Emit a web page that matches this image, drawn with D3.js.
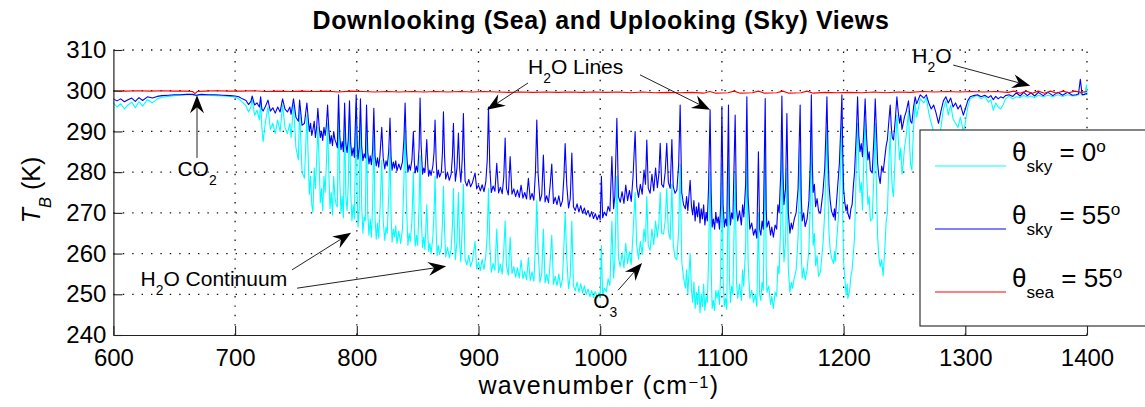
<!DOCTYPE html>
<html>
<head>
<meta charset="utf-8">
<script src="https://cdn.jsdelivr.net/npm/d3@7"></script>
<style>
  html, body { margin: 0; padding: 0; background: #fff; }
  svg { display: block; font-family: "Liberation Sans", Arial, Helvetica, sans-serif; }
</style>
</head>
<body>
<svg id="chart" width="1145" height="407"></svg>
<script>
// ---- spectral samples: wavenumber (cm^-1) and brightness temperature (K) ----
// the three arrays below run in step, ten samples per line
const wavenumber = [
  // window edge / CO2 band
  600,603,606,609,612,615,618,621,624,628,
  632,636,640,645,650,655,660,665,668,672,
  678,684,690,696,700,703,706,709,711,713,
  714,716,718,720,721,722,723,725,727,729,
  731,733,735,737,739,741,743,745,746,748,
  750,752,753,755,757,759,
  // 760-890
  761,762,763,764,765,766,767,768,769,770,
  771,772,773,774,775,776,777,778,779,780,
  781,782,783,784,785,786,787,788,789,790,
  791,792,793,794,795,796,797,798,799.5,800.3,
  801,802,803,804,805,806,807,808,809,810,
  811,812,813,814,815,816,817,818,819,820.5,
  821.7,823,824,825,826.2,827.3,828.2,829,830,831,
  832,833,834.5,836,837.5,838.7,839.7,840.7,842,843,
  844,845.3,846.5,847.3,848,849,850,851.2,852,852.8,
  854,855,856,857.5,858.3,859,860,861,862.5,863.5,
  864.3,865.2,866,867,868,869.5,870.4,871.2,872.1,873,
  874.5,876,877.5,878.6,879.4,880.2,881,882.3,883.5,884.5,
  885.5,886.6,887.6,888.4,
  // 890-1070
  889,890.5,892,893.5,895,897.2,898.5,900,901.5,903,
  904.5,906,907.2,908.2,909.3,910.5,912,913.5,915,916.5,
  918,919.5,920.8,921.9,923,924.5,926,927.5,929,930.5,
  932,933.5,935,936.5,938,939.5,941,942.5,944,945.5,
  946.8,947.9,949,950.5,952,953.3,954.7,956,957.5,958.8,
  960.2,961.6,963,964.5,966,967.5,969,970.2,971.2,972.5,
  974,975.4,976.7,978,979.5,981,982.5,984,985.5,987,
  988.5,990,991.5,993,994.5,996,997.5,999,1000,1001,
  1002,1003.5,1005,1006.5,1008,1009.6,1011,1012,1013.7,1015,
  1016.5,1018,1019.5,1021,1022.5,1024,1025.5,1027,1028.7,1030,
  1031.5,1033,1034.5,1036,1037.2,1038.3,1039.5,1041,1042.5,1044,
  1045.5,1047,1048.2,1049.3,1050.5,1052,1053.4,1054.7,1056,1057.5,
  1058.9,1060,1061.5,1063,1064.5,1065.7,1067,1068.5,
  // 1070-1261
  1070,1071,1072,1073.9,1075,1076,1077,1078,1079,1080,
  1081,1082,1083,1084,1085,1086,1087,1088,1089,1090.3,
  1091.2,1092,1093,1094,1095,1096,1097,1098,1099,1100,
  1101,1102,1103,1104,1105.4,1106.2,1107,1108,1109,1110.9,
  1112,1113,1114.5,1116,1117,1118,1119.5,1120.5,1121.5,1123,
  1124.5,1126,1127.4,1128.7,1130,1131,1132,1133,1134,1135.6,
  1136.4,1137,1138.5,1140,1141,1142.3,1143.7,1145,1146,1147,
  1148.4,1149.3,1150.2,1151,1152.3,1153.4,1154.6,1155.9,1157,1158,
  1159.5,1161,1162.6,1164.3,1165.2,1166,1167.2,1168.4,1170,1171.5,
  1172.6,1173.5,1174.3,1175,1176,1177,1178.2,1179.4,1181,1182,
  1183,1184.5,1185.5,1186.3,1187.2,1188,1189,1190,1191.7,1192.5,
  1193.1,1194,1195,1196.5,1197.7,1198.6,1199.3,1200,1201,1202,
  1203,1203.5,1205,1206,1207,1208,1209,1210.5,1211.5,1212.5,
  1213.5,1214.5,1215.5,1216.7,1217.7,1218.8,1220,1221,1222,1223.5,
  1225,1226,1227,1228,1229,1230.1,1231.3,1232.5,1234,1235,
  1236,1237.3,1238.3,1239.2,1240,1241,1242.5,1243.8,1244.8,1246,
  1247,1248,1249,1250,1251.5,1253.3,1254.2,1255,1256.1,1257.5,
  1258.8,1260,1261,
  // water band edge
  1263,1266,1268,1270,1272,1274,1276,1278,1280,1282,
  1284,1286,1288,1290,1292,1294,1296,1298.4,1300,1302,
  1304,1307,1310,1313,1316,1319,1321,1323,1325,1327,
  1329,1331,1333,1336,1339,1342,1345,1348,1351,1354,
  1357,1360,1364,1368,1372,1376,1380,1384,1388,1391,
  1393,1394.5,1396,1398,1399.6,1400
];

// uplooking sky radiance, 55 degree view
const tbSky55 = [
  298.0,297.5,298.0,297.3,297.8,298.2,297.4,298.3,297.6,298.5,
  298.2,298.6,298.8,298.9,299.0,299.0,299.1,299.1,298.9,299.1,
  299.0,299.0,298.9,298.8,298.7,298.5,298.0,297.6,296.6,297.4,
  298.7,296.5,297.0,296.0,298.5,295.5,295.0,296.2,297.7,295.0,
  295.8,294.5,296.0,294.8,298.0,295.5,294.8,296.0,294.2,298.0,
  293.5,292.5,297.7,291.5,292.0,297.0,
  290.0,292.0,289.0,290.5,292.5,288.5,291.0,295.7,291.5,288.5,
  290.0,287.8,291.0,289.0,291.5,296.5,290.5,287.0,289.0,286.5,
  290.0,288.0,287.2,286.0,299.0,289.0,285.5,287.5,285.0,297.0,
  287.0,284.8,288.0,297.5,287.0,284.0,286.0,283.6,299.0,288.0,
  283.2,286.0,298.0,286.5,282.8,284.5,283.5,296.5,285.0,282.0,
  284.0,281.8,285.5,295.7,284.0,281.5,283.5,281.2,284.0,291.0,
  283.5,280.8,282.8,281.5,285.0,293.3,283.5,280.5,282.5,281.0,
  282.8,280.3,282.0,280.6,282.5,288.0,297.0,286.0,280.0,281.8,
  280.5,283.0,290.0,282.5,279.8,281.5,280.0,286.0,298.2,287.0,
  279.5,281.0,280.0,288.0,282.0,279.0,280.5,279.2,281.5,285.0,
  292.8,283.0,278.5,280.5,278.8,280.0,285.0,294.8,284.0,278.3,
  280.0,278.0,279.5,284.0,292.0,283.0,277.8,281.0,289.6,281.0,
  277.5,283.0,294.4,283.5,
  277.8,276.6,278.2,276.4,277.4,279.8,275.9,276.8,275.4,276.9,
  275.2,277.6,283.0,296.0,281.0,275.0,276.6,275.3,282.2,274.9,
  276.3,274.7,279.0,288.4,276.0,274.4,283.8,274.6,275.9,274.0,
  275.6,273.8,276.8,273.6,275.0,273.4,278.5,273.3,274.8,273.1,
  280.0,292.8,279.5,272.9,274.5,284.2,272.7,274.2,272.5,276.5,
  282.0,272.3,273.8,272.0,274.2,271.6,273.0,279.0,287.0,277.0,
  271.2,273.5,284.7,271.5,270.6,272.2,270.2,271.8,269.9,271.2,
  269.5,270.6,269.0,270.3,268.6,269.8,268.3,269.5,268.3,279.0,
  268.8,270.2,269.3,271.6,270.4,283.8,271.0,274.0,293.2,274.0,
  272.6,275.2,272.3,276.8,273.0,275.5,272.8,279.0,290.0,276.5,
  273.8,277.0,274.6,280.5,277.0,287.9,276.0,274.8,279.5,275.4,
  281.0,276.2,279.5,287.1,277.0,276.3,280.0,287.1,277.5,276.0,
  288.0,276.5,274.8,275.6,282.0,296.5,275.0,272.0,
  271.0,274.0,270.5,278.0,271.5,269.5,273.0,268.0,271.5,269.0,
  272.5,267.5,271.0,268.5,272.0,267.0,270.0,268.0,276.0,295.3,
  275.0,266.5,268.5,266.0,270.0,267.5,269.0,266.0,272.0,296.1,
  272.0,266.5,268.5,266.8,296.5,272.0,267.0,270.0,268.5,294.0,
  271.0,268.0,270.5,267.0,272.0,269.0,277.0,298.5,274.0,266.0,
  267.5,264.5,266.0,263.8,285.0,266.0,264.5,268.0,266.0,298.1,
  271.0,266.5,268.0,264.5,266.5,264.0,267.0,266.0,272.0,270.0,
  280.0,298.7,280.0,272.0,276.0,294.4,270.0,265.0,267.5,266.0,
  268.5,270.0,276.0,296.5,274.0,268.0,270.0,266.6,268.5,273.0,
  282.0,299.0,282.0,275.0,277.0,271.5,273.5,270.5,269.9,272.5,
  275.0,281.0,290.0,298.5,285.0,277.0,273.0,270.5,269.0,271.0,
  268.2,272.0,276.0,282.0,291.0,299.0,285.0,276.0,272.5,270.5,
  272.0,269.9,268.5,271.0,272.0,276.5,280.0,290.0,298.5,289.0,
  285.0,287.0,283.8,291.0,298.0,289.0,283.0,285.0,280.5,279.8,
  289.0,298.0,290.0,282.0,279.0,277.2,281.5,280.0,284.0,286.5,
  288.0,293.0,296.5,291.0,288.5,287.9,293.0,298.5,295.0,292.0,
  294.0,290.5,292.0,293.5,295.0,297.5,294.5,292.5,292.0,296.0,
  298.5,296.8,297.5,
  299.0,298.2,299.0,297.0,295.5,296.5,294.5,292.0,295.0,297.5,
  298.5,297.0,298.2,296.0,297.0,295.5,296.5,294.0,295.5,297.5,
  298.5,298.8,299.0,298.5,298.9,298.3,298.8,297.8,298.6,298.0,
  298.5,298.2,298.8,299.0,298.6,299.5,298.7,299.6,298.8,299.5,
  298.7,299.6,298.8,299.6,298.8,299.6,298.9,299.6,298.9,299.0,
  299.2,302.8,299.0,299.1,299.3,299.1
];

// uplooking sky radiance, zenith view
const tbSky0 = [
  297.0,296.0,296.8,295.5,296.5,297.2,295.8,297.3,296.2,297.8,
  297.0,298.0,298.4,298.6,298.8,298.9,299.0,299.0,298.8,299.0,
  298.9,298.8,298.7,298.6,298.4,298.0,297.2,296.3,294.8,296.0,
  298.0,294.0,295.2,292.8,297.6,291.0,287.5,292.5,296.0,290.5,
  292.0,289.5,292.8,290.0,296.5,291.0,289.5,292.0,288.5,296.5,
  286.0,283.0,295.5,280.0,278.5,294.0,
  274.5,279.0,272.0,270.2,281.0,276.0,283.0,291.0,283.0,272.5,
  276.0,270.5,279.0,275.0,282.0,292.0,280.0,271.0,275.0,269.5,
  279.0,274.0,272.0,271.5,296.0,278.0,270.0,274.0,268.8,293.5,
  274.0,270.5,277.0,294.5,275.0,268.0,272.0,268.5,297.0,275.0,
  266.5,271.0,295.0,272.0,265.0,269.0,268.0,292.0,270.0,264.5,
  268.5,264.0,272.0,290.5,268.5,263.5,267.5,263.8,270.0,283.0,
  268.0,263.2,266.5,265.0,274.0,286.0,269.0,262.8,266.0,264.0,
  266.8,262.5,265.5,262.5,266.0,278.0,292.0,273.0,262.0,265.0,
  263.0,268.0,280.0,266.0,261.8,264.5,262.0,272.0,284.0,270.0,
  261.5,264.0,261.0,272.0,265.0,260.5,262.5,260.0,264.0,270.0,
  279.0,266.0,259.5,262.0,259.8,261.5,268.0,276.5,266.0,259.2,
  261.5,259.0,261.0,267.0,276.0,265.0,258.5,263.0,275.0,262.5,
  258.0,266.0,277.0,265.0,
  258.5,257.2,259.6,256.8,258.3,263.0,256.2,257.9,255.8,258.6,
  256.1,259.4,265.0,276.0,262.0,255.4,257.6,255.9,266.0,255.3,
  257.4,255.0,261.0,268.0,257.0,254.7,264.0,255.1,256.8,254.2,
  256.5,254.0,258.4,253.8,255.6,253.6,259.0,253.4,255.5,253.2,
  262.0,273.0,260.5,252.9,255.2,266.0,252.8,254.9,252.6,257.5,
  264.5,252.4,254.4,252.1,255.0,251.7,253.8,262.0,270.0,259.0,
  251.4,254.5,268.0,252.0,250.9,253.0,250.5,252.6,250.3,252.1,
  249.9,251.3,249.4,250.9,249.2,250.7,249.1,250.4,249.4,262.0,
  249.8,251.5,250.6,253.8,252.2,268.0,254.0,258.0,279.0,259.0,
  256.8,260.2,256.5,262.5,257.6,260.4,257.3,265.0,275.0,262.0,
  258.6,263.0,259.8,266.0,263.0,274.0,262.0,260.8,266.0,262.2,
  268.0,264.0,267.5,275.0,265.0,264.8,268.0,276.0,265.5,263.5,
  277.0,262.0,259.0,258.5,266.0,282.0,258.0,254.0,
  251.5,256.0,250.0,260.0,251.0,248.0,253.0,246.5,250.5,247.5,
  252.0,245.5,250.0,247.0,252.5,246.0,249.5,248.0,258.0,280.0,
  256.0,246.5,248.5,246.0,251.0,249.0,251.0,247.5,255.0,282.0,
  254.0,247.0,249.0,246.3,283.0,254.0,248.0,252.0,250.0,280.0,
  253.0,249.0,252.5,248.5,256.0,252.0,262.0,286.0,258.0,249.0,
  251.0,248.0,250.0,247.0,270.0,250.0,248.5,253.0,251.0,287.0,
  257.0,250.5,252.0,247.5,249.5,246.5,250.5,249.5,257.0,255.0,
  268.0,290.0,266.0,258.0,263.0,281.0,256.0,250.5,253.0,251.5,
  254.0,256.0,264.0,286.0,260.0,254.0,256.5,253.5,256.0,261.0,
  272.0,292.0,270.0,262.0,265.0,257.0,259.5,254.4,255.5,259.0,
  262.0,270.0,281.0,291.0,274.0,265.0,261.0,259.0,257.6,260.5,
  258.0,262.0,266.0,272.0,283.0,292.0,270.0,258.0,254.0,250.0,
  252.5,249.0,251.0,254.5,256.0,260.0,264.0,282.0,292.0,281.0,
  275.0,277.5,270.7,284.0,293.0,280.0,272.0,274.0,268.0,268.5,
  280.0,292.0,276.0,264.0,259.0,256.8,258.5,254.5,262.0,268.0,
  270.0,283.0,290.0,281.0,276.0,274.0,285.0,294.0,289.0,283.0,
  286.0,279.5,282.0,286.0,289.0,295.0,287.0,282.0,280.5,291.0,
  297.0,293.5,295.0,
  298.0,297.0,298.3,294.5,292.0,290.0,288.0,288.0,291.0,295.5,
  297.5,294.0,296.5,293.0,292.0,291.0,293.5,290.0,292.0,296.0,
  298.0,298.5,298.8,298.0,298.6,297.2,297.8,295.2,297.0,296.0,
  295.5,296.5,298.0,298.6,298.0,298.5,298.3,298.8,298.4,298.7,
  298.3,298.9,298.5,298.9,298.5,299.0,298.6,299.0,298.7,298.8,
  299.0,299.5,298.9,299.0,301.4,299.0
];

// downlooking sea surface, 55 degree view
const seaWavenumber = [
  600,610,620,630,640,650,660,665,667,669,675,685,695,705,715,725,735,745,755,765,775,785,795,805,815,825,835,845,855,865,
  875,885,895,905,915,925,935,945,955,965,975,985,995,1005,1015,1025,1035,1045,1055,1065,1075,1085,1090,1095,1105,1110,1115,
  1125,1130,1135,1145,1150,1155,1165,1170,1175,1185,1195,1205,1215,1225,1235,1245,1255,1265,1275,1285,1295,1305,1315,1325,
  1335,1340,1345,1350,1355,1360,1365,1370,1375,1380,1385,1390,1395,1400
];
const tbSea = [
  300.0,299.9,300.0,299.9,300.0,299.9,299.9,299.8,299.3,299.8,299.9,300.0,299.9,299.9,300.0,299.8,299.9,299.8,299.9,299.8,299.9,299.7,299.9,299.8,299.7,299.8,299.7,299.8,299.7,299.8,
  299.7,299.8,299.7,299.8,299.7,299.6,299.7,299.6,299.7,299.6,299.7,299.6,299.7,299.6,299.7,299.5,299.7,299.5,299.6,299.5,299.6,299.4,299.8,299.4,299.5,299.9,299.4,
  299.5,299.9,299.4,299.5,299.9,299.4,299.5,299.9,299.4,299.6,299.5,299.6,299.5,299.7,299.5,299.7,299.6,299.8,299.7,299.8,299.7,299.8,299.7,299.8,
  299.6,299.9,299.4,299.9,299.4,299.9,299.4,299.9,299.4,299.9,299.5,299.9,299.6,299.8
];

const xTickValues = [600, 700, 800, 900, 1000, 1100, 1200, 1300, 1400];
const yTickValues = [240, 250, 260, 270, 280, 290, 300, 310];

const legendViews = ["sky", "sky", "sea"];
const legendAngles = ["0", "55", "55"];

// ---- layout ----
const svg = d3.select("#chart");
const x = d3.scaleLinear().domain([600, 1400]).range([113.4, 1087]);
const y = d3.scaleLinear().domain([240, 310]).range([335, 50]);
const FONT = '"Liberation Sans", Arial, Helvetica, sans-serif';

// dotted grid
const grid = svg.append("g")
  .attr("stroke", "#111").attr("stroke-width", 1.3).attr("stroke-dasharray", "1.4,8");
grid.selectAll(".gx").data(xTickValues.slice(1)).join("line").attr("class", "gx")
  .attr("x1", d => x(d)).attr("x2", d => x(d))
  .attr("y1", y(240)).attr("y2", y(310));
grid.selectAll(".gy").data(yTickValues.slice(1)).join("line").attr("class", "gy")
  .attr("x1", x(600)).attr("x2", x(1400))
  .attr("y1", d => y(d)).attr("y2", d => y(d));

// spectra: zenith sky, slant sky, then sea surface on top
const specLine = d3.line().x(d => x(d[0])).y(d => y(d[1]));
const spectra = [
  { wn: wavenumber, tb: tbSky0, color: "#00ffff", width: 1.1 },
  { wn: wavenumber, tb: tbSky55, color: "#0000ff", width: 1.1 },
  { wn: seaWavenumber, tb: tbSea, color: "#ff0000", width: 1.1 }
];
svg.append("g").selectAll("path").data(spectra).join("path")
  .attr("fill", "none")
  .attr("stroke", d => d.color)
  .attr("stroke-width", d => d.width)
  .attr("stroke-linejoin", "round")
  .attr("d", d => specLine(d3.zip(d.wn, d.tb)));

// axes with inward ticks
const xAxis = d3.axisBottom(x).tickValues(xTickValues).tickFormat(d3.format("d"))
  .tickSizeInner(-9).tickSizeOuter(0).tickPadding(14);
const yAxis = d3.axisLeft(y).tickValues(yTickValues).tickFormat(d3.format("d"))
  .tickSizeInner(-9).tickSizeOuter(0).tickPadding(7);
const gx = svg.append("g").attr("transform", `translate(0,${y(240)})`).call(xAxis);
const gy = svg.append("g").attr("transform", `translate(${x(600)},0)`).call(yAxis);
[gx, gy].forEach(g => {
  g.attr("font-family", FONT).attr("font-size", 24);
  g.select(".domain").attr("stroke", "#222").attr("stroke-width", 1.2);
  g.selectAll(".tick line").attr("stroke", "#222").attr("stroke-width", 1.1);
  g.selectAll(".tick text").attr("fill", "#000");
});

// rich text helper: parts are [text, mode, italic] with mode "", "sub" or "sup"
function richText(sel, parts, size, supRaise = 0.36) {
  let shift = 0;
  parts.forEach(([t, mode, italic]) => {
    const target = mode === "sub" ? size * 0.42 : mode === "sup" ? -size * supRaise : 0;
    const ts = sel.append("tspan")
      .attr("dy", target - shift)
      .attr("font-size", mode ? size * 0.66 : size)
      .text(t);
    if (italic) ts.attr("font-style", "italic");
    shift = target;
  });
  return sel;
}

// title
svg.append("text")
  .attr("x", 601).attr("y", 29)
  .attr("text-anchor", "middle")
  .attr("font-family", FONT).attr("font-weight", "bold").attr("font-size", 25)
  .attr("letter-spacing", 0.6)
  .text("Downlooking (Sea) and Uplooking (Sky) Views");

// axis labels
richText(svg.append("text")
  .attr("x", 599).attr("y", 394)
  .attr("text-anchor", "middle")
  .attr("font-family", FONT).attr("letter-spacing", 1.3),
  [["wavenumber (cm", ""], ["\u22121", "sup"], [")", ""]], 25, 0.24);

richText(svg.append("text")
  .attr("transform", "translate(40,190) rotate(-90)")
  .attr("text-anchor", "middle")
  .attr("font-family", FONT),
  [["T", "", true], ["B", "sub", true], [" (K)", ""]], 25);

// legend box, drawn over the spectra
const legend = svg.append("g");
legend.append("rect")
  .attr("x", 920).attr("y", 130).attr("width", 240).attr("height", 196)
  .attr("fill", "#fff").attr("stroke", "#222").attr("stroke-width", 1.1);
legendViews.forEach((view, i) => {
  const ly = 166 + i * 63;
  legend.append("line")
    .attr("x1", 935).attr("x2", 1006).attr("y1", ly).attr("y2", ly)
    .attr("stroke", spectra[i].color).attr("stroke-width", 1.2);
  richText(legend.append("text")
    .attr("x", 1012).attr("y", ly - 5)
    .attr("font-family", FONT),
    [["\u03b8", ""], [view, "sub"], [" = " + legendAngles[i], ""], ["o", "sup"]], 26);
});

// annotations (anchored in data coordinates)
const notes = [
  { parts: [["CO", ""], ["2", "sub"]], at: [668.7, 279.0], anchor: "middle" },
  { parts: [["H", ""], ["2", "sub"], ["O Lines", ""]], at: [940.7, 304.1], anchor: "start" },
  { parts: [["H", ""], ["2", "sub"], ["O", ""]], at: [1256.4, 306.8], anchor: "start" },
  { parts: [["H", ""], ["2", "sub"], ["O Continuum", ""]], at: [622.3, 252.0], anchor: "start" },
  { parts: [["O", ""], ["3", "sub"]], at: [994.2, 246.6], anchor: "start" }
];
const arrows = [
  { from: [668.7, 283.5], to: [668.7, 298.9] },
  { from: [940.7, 301.9], to: [907.0, 295.3] },
  { from: [1032.7, 303.9], to: [1090.3, 295.3] },
  { from: [1290.1, 306.3], to: [1353.4, 301.2] },
  { from: [746.8, 256.0], to: [795.3, 265.1] },
  { from: [750.9, 251.5], to: [873.4, 256.9] },
  { from: [1014.7, 251.0], to: [1034.4, 257.7] }
];

const ann = svg.append("g");
notes.forEach(n => {
  richText(ann.append("text")
    .attr("x", x(n.at[0])).attr("y", y(n.at[1]))
    .attr("text-anchor", n.anchor)
    .attr("font-family", FONT),
    n.parts, 21);
});
arrows.forEach(a => {
  const x1 = x(a.from[0]), y1 = y(a.from[1]), x2 = x(a.to[0]), y2 = y(a.to[1]);
  const dx = x2 - x1, dy = y2 - y1, len = Math.hypot(dx, dy);
  const ux = dx / len, uy = dy / len, nx = -uy, ny = ux;
  const L = 18, HW = 7, NOTCH = 12;
  const bx = x2 - ux * L, by = y2 - uy * L;
  const mx = x2 - ux * NOTCH, my = y2 - uy * NOTCH;
  ann.append("line")
    .attr("x1", x1).attr("y1", y1).attr("x2", mx).attr("y2", my)
    .attr("stroke", "#222").attr("stroke-width", 1);
  ann.append("path")
    .attr("d", `M${x2},${y2}L${bx + nx * HW},${by + ny * HW}L${mx},${my}L${bx - nx * HW},${by - ny * HW}Z`)
    .attr("fill", "#000");
});
</script>
</body>
</html>
